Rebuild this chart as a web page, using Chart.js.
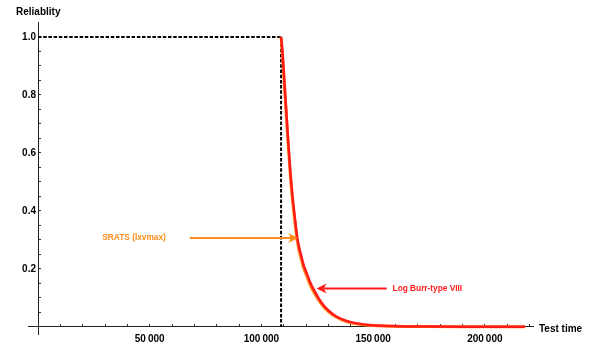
<!DOCTYPE html>
<html>
<head>
<meta charset="utf-8">
<script src="https://cdn.jsdelivr.net/npm/chart.js@4.4.0/dist/chart.umd.min.js"></script>
<style>
  html, body { margin: 0; padding: 0; background: #fff; }
  #wrap { width: 593px; height: 343px; }
</style>
</head>
<body>
<div id="wrap"><canvas id="reliabilityChart" width="593" height="343"></canvas></div>
<script>
// Test time grid (both fitted curves share it)
const testTimes = [108800, 109500, 110000, 111000, 112000, 113000, 114000, 115000, 116000, 117000,
  118000, 119000, 120000, 122000, 124000, 126000, 128000, 130000, 133000, 136000,
  140000, 145000, 150000, 160000, 175000, 190000, 218000];

// Reliability estimates
const sratsReliability = [1.0, 0.93, 0.87, 0.745, 0.625, 0.515, 0.43, 0.36, 0.298, 0.258,
  0.228, 0.2, 0.18, 0.141, 0.112, 0.087, 0.067, 0.052, 0.035, 0.024,
  0.014, 0.008, 0.004, 0.0015, 0.0004, 0.0001, 0];
const logBurrReliability = [1.0, 0.94, 0.88, 0.76, 0.64, 0.53, 0.445, 0.375, 0.31, 0.27,
  0.24, 0.21, 0.19, 0.15, 0.12, 0.093, 0.072, 0.056, 0.038, 0.026,
  0.016, 0.009, 0.005, 0.002, 0.0005, 0.0002, 0];

// Dashed step: reliability 1 until the release time, then 0
const stepTimes = [0, 108800, 108800];
const stepReliability = [1, 1, 0];

// Axis ticks
const xMajorTicks = [50000, 100000, 150000, 200000];
const yMajorTicks = [0.2, 0.4, 0.6, 0.8, 1.0];
const xMinorStep = 10000;
const yMinorStep = 0.05;

const ORANGE = '#ff8c1a';
const RED = '#ff1a1a';
const FONT = 'Liberation Sans, Arial, sans-serif';

function toPoints(xs, ys) {
  return xs.map(function(x, i) { return { x: x, y: ys[i] }; });
}

function formatThousands(v) {
  return String(v).replace(/\B(?=(\d{3})+(?!\d))/g, '\u2009');
}

function drawArrow(ctx, x1, y1, x2, y2, color) {
  const angle = Math.atan2(y2 - y1, x2 - x1);
  const headLen = 10, headHalf = 5, notch = 3;
  ctx.save();
  ctx.strokeStyle = color;
  ctx.fillStyle = color;
  ctx.lineWidth = 2;
  ctx.beginPath();
  ctx.moveTo(x1, y1);
  ctx.lineTo(x2 - Math.cos(angle) * (headLen - notch), y2 - Math.sin(angle) * (headLen - notch));
  ctx.stroke();
  ctx.translate(x2, y2);
  ctx.rotate(angle);
  ctx.beginPath();
  ctx.moveTo(0, 0);
  ctx.lineTo(-headLen, -headHalf);
  ctx.lineTo(-headLen + notch, 0);
  ctx.lineTo(-headLen, headHalf);
  ctx.closePath();
  ctx.fill();
  ctx.restore();
}

// Arrow labels, anchored in data coordinates
const arrowNotes = [
  { text: 'SRATS (lxvmax)', color: ORANGE, textAt: [43000, 0.306], align: 'center', from: [68000, 0.306], to: [116400, 0.306] },
  { text: 'Log Burr-type VIII', color: RED, textAt: [158700, 0.132], align: 'left', from: [156100, 0.132], to: [124700, 0.132] }
];

const annotationPlugin = {
  id: 'annotations',
  afterDatasetsDraw(chart) {
    const ctx = chart.ctx;
    const x = chart.scales.x, y = chart.scales.y;
    arrowNotes.forEach(function(n) {
      drawArrow(ctx, x.getPixelForValue(n.from[0]), y.getPixelForValue(n.from[1]),
        x.getPixelForValue(n.to[0]), y.getPixelForValue(n.to[1]), n.color);
      ctx.save();
      ctx.font = 'bold 8.3px ' + FONT;
      ctx.fillStyle = n.color;
      ctx.textAlign = n.align;
      ctx.textBaseline = 'middle';
      ctx.fillText(n.text, x.getPixelForValue(n.textAt[0]), y.getPixelForValue(n.textAt[1]));
      ctx.restore();
    });

    // axis names
    const x0 = x.getPixelForValue(0), y0 = y.getPixelForValue(0);
    ctx.save();
    ctx.font = 'bold 10px ' + FONT;
    ctx.fillStyle = '#000';
    ctx.textBaseline = 'middle';
    ctx.textAlign = 'left';
    ctx.fillText('Reliablity', x0 - 22, chart.chartArea.top - 10);
    ctx.fillText('Test time', chart.chartArea.right + 6, y0 + 3);
    ctx.restore();
  }
};

const config = {
  type: 'scatter',
  data: {
    datasets: [
      {
        label: 'Log Burr-type VIII',
        data: toPoints(testTimes, logBurrReliability),
        showLine: true,
        borderColor: RED,
        borderWidth: 2.5,
        pointRadius: 0,
        cubicInterpolationMode: 'monotone',
        order: 0
      },
      {
        label: 'SRATS (lxvmax)',
        data: toPoints(testTimes, sratsReliability),
        showLine: true,
        borderColor: ORANGE,
        borderWidth: 3,
        pointRadius: 0,
        cubicInterpolationMode: 'monotone',
        order: 1
      },
      {
        label: 'step',
        data: toPoints(stepTimes, stepReliability),
        showLine: true,
        borderColor: '#000',
        borderWidth: 2,
        borderDash: [3.5, 1.7],
        pointRadius: 0,
        order: 2
      }
    ]
  },
  options: {
    responsive: false,
    animation: false,
    layout: { padding: { left: 28, right: 60, top: 22, bottom: 8 } },
    scales: {
      x: {
        type: 'linear',
        position: { y: 0 },
        min: -4476,
        max: 221560,
        afterBuildTicks: function(axis) {
          const ticks = [];
          for (let v = xMinorStep; v <= 220000; v += xMinorStep) ticks.push({ value: v });
          axis.ticks = ticks;
        },
        ticks: {
          autoSkip: false,
          maxRotation: 0,
          padding: 10,
          color: '#000',
          font: { family: FONT, size: 10, weight: 'bold' },
          callback: function(v) {
            return xMajorTicks.includes(v) ? formatThousands(v) : '';
          }
        },
        grid: { drawOnChartArea: false, tickLength: -3, tickColor: '#333' },
        border: { color: '#222', width: 1 }
      },
      y: {
        type: 'linear',
        position: { x: 0 },
        min: -0.0251,
        max: 1.0516,
        afterBuildTicks: function(axis) {
          const ticks = [];
          for (let i = 1; i * yMinorStep <= 1.0001; i++) ticks.push({ value: Math.round(i * yMinorStep * 100) / 100 });
          axis.ticks = ticks;
        },
        ticks: {
          autoSkip: false,
          padding: 3,
          color: '#000',
          font: { family: FONT, size: 10, weight: 'bold' },
          callback: function(v) {
            const r = Math.round(v * 100) / 100;
            return yMajorTicks.includes(r) ? r.toFixed(1) + '\u2009' : '';
          }
        },
        grid: { drawOnChartArea: false, tickLength: -3, tickColor: '#333' },
        border: { color: '#222', width: 1 }
      }
    },
    plugins: {
      legend: { display: false },
      tooltip: { enabled: false }
    }
  },
  plugins: [annotationPlugin]
};

new Chart(document.getElementById('reliabilityChart').getContext('2d'), config);
</script>
</body>
</html>
